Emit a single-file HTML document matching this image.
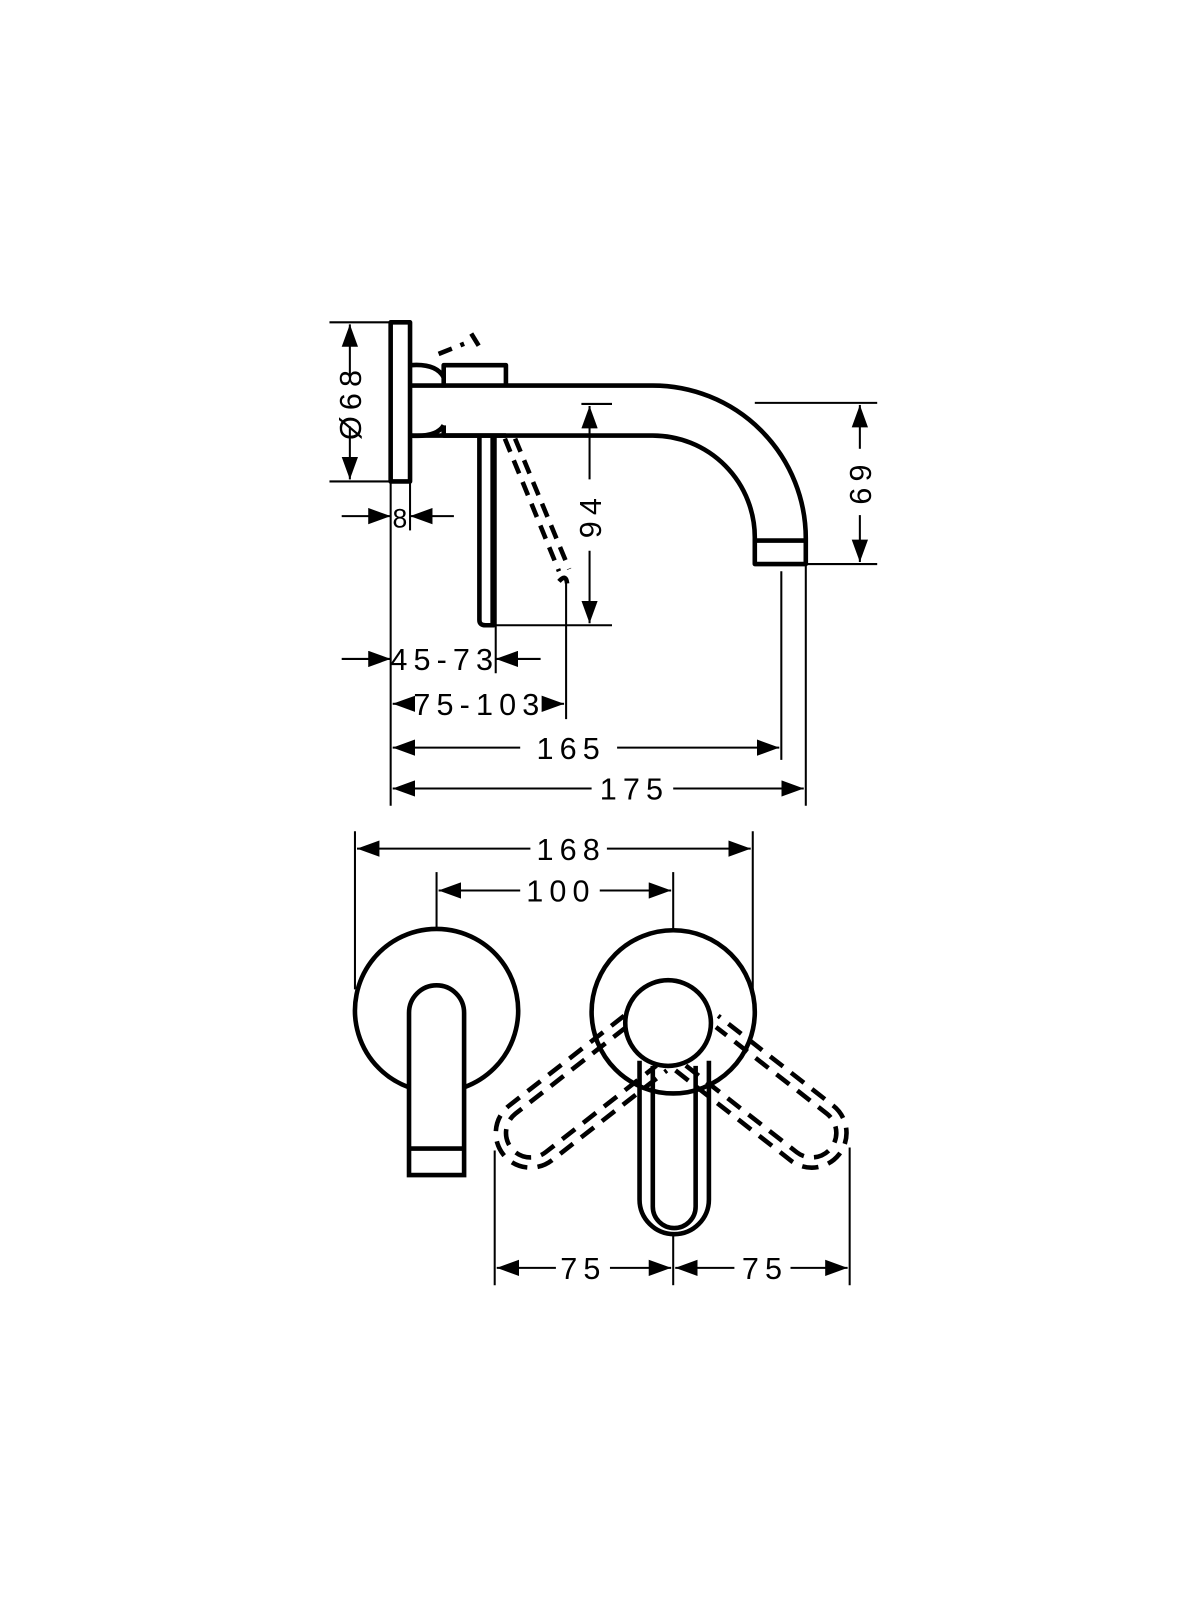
<!DOCTYPE html>
<html><head><meta charset="utf-8"><style>
html,body{margin:0;padding:0;background:#fff}
svg{display:block}
text{font-family:"Liberation Sans",sans-serif;font-size:30px;fill:#000;letter-spacing:6px}
</style></head><body>
<svg width="1200" height="1600" viewBox="0 0 1200 1600" xmlns="http://www.w3.org/2000/svg">
<defs>
<marker id="a" viewBox="0 0 22 16" refX="22" refY="8" markerWidth="22" markerHeight="16" markerUnits="userSpaceOnUse" orient="auto"><path d="M0,0 L22,8 L0,16 Z" fill="#000"/></marker>
</defs>
<g transform="scale(1.02)" fill="none" stroke="#000" stroke-linecap="butt">
<!-- SIDE VIEW -->
<g stroke-width="4.5" stroke-linejoin="round">
<rect x="383" y="316" width="19" height="156"/>
<path d="M402,358 Q428,356 435,370 M402,427 Q428,429 435,417"/>
<path d="M435,380 V358 H496 V378"/>
<path d="M435,417 V427 H496"/>
<path d="M402,378 H640 A150,150 0 0 1 790,528 V553 H740 V528 A100,100 0 0 0 640,427 H402"/>
<path d="M740,530 H790"/>
<path d="M470,427 V608 Q470,613 476,613 H484 V427"/>
<path d="M483,427 V613"/>
</g>
<g stroke-width="4.5" stroke-dasharray="14,9">
<path d="M430,347 L455,337"/>
<path d="M462,327 L473,345"/>
<path d="M495,430 L548,560"/>
<path d="M505,430 L558,558"/>
<path d="M548,570 Q555,562 556,572"/>
</g>
<!-- side dims -->
<g stroke-width="2">
<line x1="323" y1="316" x2="383" y2="316"/>
<line x1="323" y1="472" x2="383" y2="472"/>
<line x1="343" y1="370" x2="343" y2="318" marker-end="url(#a)"/>
<line x1="343" y1="418" x2="343" y2="470" marker-end="url(#a)"/>
<line x1="335" y1="506" x2="383" y2="506" marker-end="url(#a)"/>
<line x1="445" y1="506" x2="402" y2="506" marker-end="url(#a)"/>
<line x1="402" y1="472" x2="402" y2="520"/>
<line x1="383" y1="472" x2="383" y2="790"/>
<line x1="570" y1="396" x2="600" y2="396"/>
<line x1="484" y1="613" x2="600" y2="613"/>
<line x1="578" y1="470" x2="578" y2="398" marker-end="url(#a)"/>
<line x1="578" y1="540" x2="578" y2="611" marker-end="url(#a)"/>
<line x1="740" y1="395" x2="860" y2="395"/>
<line x1="790" y1="553" x2="860" y2="553"/>
<line x1="843" y1="440" x2="843" y2="397" marker-end="url(#a)"/>
<line x1="843" y1="505" x2="843" y2="551" marker-end="url(#a)"/>
<line x1="335" y1="646" x2="383" y2="646" marker-end="url(#a)"/>
<line x1="530" y1="646" x2="486" y2="646" marker-end="url(#a)"/>
<line x1="486" y1="427" x2="486" y2="660"/>
<line x1="555" y1="570" x2="555" y2="705"/>
<line x1="400" y1="690" x2="385" y2="690" marker-end="url(#a)"/>
<line x1="540" y1="690" x2="553" y2="690" marker-end="url(#a)"/>
<line x1="766" y1="560" x2="766" y2="745"/>
<line x1="510" y1="733" x2="385" y2="733" marker-end="url(#a)"/>
<line x1="605" y1="733" x2="764" y2="733" marker-end="url(#a)"/>
<line x1="790" y1="553" x2="790" y2="790"/>
<line x1="580" y1="773" x2="385" y2="773" marker-end="url(#a)"/>
<line x1="660" y1="773" x2="788" y2="773" marker-end="url(#a)"/>
</g>
<!-- FRONT VIEW -->
<g stroke-width="4.5">
<path d="M401,1066 A80,80 0 1 1 455,1066"/>
<path d="M401,1152 V993 A27,27 0 0 1 455,993 V1152 Z"/>
<path d="M401,1126 H455"/>
<circle cx="660" cy="992" r="80"/>
<circle cx="655" cy="1003" r="42"/>
<path d="M627,1040 V1176 A34,34 0 0 0 695,1176 V1040"/>
<path d="M640,1045 V1183 A21,21 0 0 0 682,1183 V1045"/>
</g>
<g stroke-width="4.5" stroke-dasharray="16,10">
<g transform="rotate(52 658 1003)">
<path d="M624,1035 V1178 A34,34 0 0 0 692,1178 V1035"/>
<path d="M634,1040 V1178 A24,24 0 0 0 682,1178 V1040"/>
</g>
<g transform="rotate(-52 658 1003)">
<path d="M624,1035 V1178 A34,34 0 0 0 692,1178 V1035"/>
<path d="M634,1040 V1178 A24,24 0 0 0 682,1178 V1040"/>
</g>
</g>
<g stroke-width="2">
<line x1="348" y1="815" x2="348" y2="970"/>
<line x1="738" y1="815" x2="738" y2="975"/>
<line x1="520" y1="832" x2="350" y2="832" marker-end="url(#a)"/>
<line x1="595" y1="832" x2="736" y2="832" marker-end="url(#a)"/>
<line x1="428" y1="855" x2="428" y2="912"/>
<line x1="660" y1="855" x2="660" y2="912"/>
<line x1="510" y1="873" x2="430" y2="873" marker-end="url(#a)"/>
<line x1="588" y1="873" x2="658" y2="873" marker-end="url(#a)"/>
<line x1="485" y1="1128" x2="485" y2="1260"/>
<line x1="660" y1="1210" x2="660" y2="1260"/>
<line x1="833" y1="1125" x2="833" y2="1260"/>
<line x1="545" y1="1243" x2="487" y2="1243" marker-end="url(#a)"/>
<line x1="598" y1="1243" x2="658" y2="1243" marker-end="url(#a)"/>
<line x1="720" y1="1243" x2="662" y2="1243" marker-end="url(#a)"/>
<line x1="775" y1="1243" x2="831" y2="1243" marker-end="url(#a)"/>
</g>
</g>
<g transform="scale(1.02)">
<text x="343" y="394" text-anchor="middle" transform="rotate(-90 343 394)" dy="11">Ø68</text>
<text x="392" y="517" text-anchor="middle" style="font-size:26px;letter-spacing:0">8</text>
<text x="578" y="505" text-anchor="middle" transform="rotate(-90 578 505)" dy="11">94</text>
<text x="843" y="472" text-anchor="middle" transform="rotate(-90 843 472)" dy="11">69</text>
<text x="436" y="657" text-anchor="middle">45-73</text>
<text x="470" y="701" text-anchor="middle">75-103</text>
<text x="560" y="744" text-anchor="middle">165</text>
<text x="622" y="784" text-anchor="middle">175</text>
<text x="560" y="843" text-anchor="middle">168</text>
<text x="550" y="884" text-anchor="middle">100</text>
<text x="572" y="1254" text-anchor="middle">75</text>
<text x="750" y="1254" text-anchor="middle">75</text>
</g>
</svg>
</body></html>
